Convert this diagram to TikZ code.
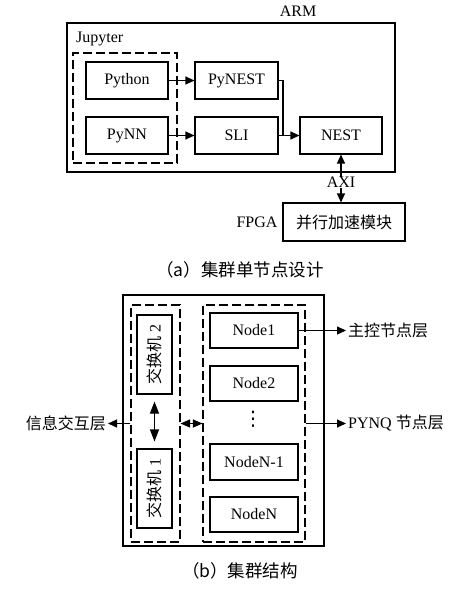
\documentclass[tikz,border=0pt]{standalone}
\usepackage{fontspec}
\setmainfont{Liberation Serif}
\newfontfamily\cjk{Noto Sans CJK SC}
\newfontfamily\djv{DejaVu Sans}
\usetikzlibrary{arrows.meta}
\begin{document}
\begin{tikzpicture}[x=1pt,y=-1pt,
  every node/.style={font=\fontsize{16}{19}\selectfont, inner sep=0pt},
  box/.style={draw, line width=1.1pt, minimum height=37pt, minimum width=82pt},
  nbox/.style={draw, line width=1.1pt, minimum height=35pt, minimum width=88pt},
  sbox/.style={draw, line width=1.1pt, minimum height=79pt, minimum width=35pt},
  frame/.style={draw, line width=1.1pt},
  dbox/.style={draw, line width=1.1pt, dash pattern=on 9pt off 4pt},
  arr/.style={line width=1.1pt, -{Triangle[length=9pt,width=8pt]}},
  darr/.style={line width=1.1pt, {Triangle[length=9pt,width=8pt]}-{Triangle[length=9pt,width=8pt]}},
  bigdarr/.style={line width=1.1pt, {Triangle[length=12pt,width=9pt]}-{Triangle[length=12pt,width=9pt]}},
  lbl/.style={inner sep=2pt},
  captxt/.style={font=\cjk\fontsize{17.5}{20}\selectfont}
]
\useasboundingbox (0,0) rectangle (450,589);
% (a)
\node (armlbl) at (298,11) {ARM};
\node[frame, minimum width=328pt, minimum height=149pt] (arm) at (231,97.5) {};
\node[anchor=west] (jup) at (76,39) {Jupyter};
\node[dbox, minimum width=104pt, minimum height=110pt] (jbox) at (125,108) {};
\node[box] (python) at (127,80.5) {Python};
\node[box] (pynn) at (127,135.5) {PyNN};
\node[box, minimum width=83pt] (pynest) at (236.5,80.5) {PyNEST};
\node[box, minimum width=83pt] (sli) at (236.5,135.5) {SLI};
\node[box] (nest) at (341,135.5) {NEST};
\node[box, minimum width=122pt, minimum height=38pt] (fpga) at (344,222) {\cjk 并行加速模块};
\node (fpgalbl) at (257,222) {FPGA};
\coordinate (bend) at (283,0);
\draw[arr] (python) -- (pynest);
\draw[arr] (pynn) -- (sli);
\draw[arr] (sli) -- (nest);
\draw[line width=1.1pt] (pynest.east) -| (bend |- nest.west);
\draw[darr] (nest.south) -- (nest.south |- fpga.north) node[pos=0.58, fill=white, inner sep=0.5pt] (axi) {AXI};
\node[captxt] (capa) at (240,270) {（a）集群单节点设计};
% (b)
\node[frame, minimum width=201pt, minimum height=251pt] (outer) at (223.5,420.5) {};
\node[dbox, minimum width=49pt, minimum height=237pt] (ldash) at (155.5,423.5) {};
\node[dbox, minimum width=102pt, minimum height=237pt] (rdash) at (254,423.5) {};
\node[sbox] (sw2) at (154.5,354.5) {\rotatebox{90}{{\cjk 交换机} 2}};
\node[sbox] (sw1) at (154.5,488.5) {\rotatebox{90}{{\cjk 交换机} 1}};
\draw[bigdarr] ([yshift=-7pt]sw2.south) -- ([yshift=7pt]sw1.north);
\node[nbox] (n1) at (254,330.5) {Node1};
\node[nbox] (n2) at (254,383.5) {Node2};
\node[font=\djv\fontsize{20}{22}\selectfont] (vd) at (253,419) {⋮};
\node[nbox, minimum height=36pt] (nm) at (254,462) {NodeN-1};
\node[nbox] (nn) at (254,514.5) {NodeN};
\draw[line width=1.1pt, {Triangle[length=9.5pt,width=8pt]}-{Triangle[length=9.5pt,width=8pt]}] (ldash.east) -- (rdash.west);
\node[lbl, anchor=east] (info) at (108,423.5) {\cjk 信息交互层};
\draw[arr] (ldash.west) -- (info.east);
\node[lbl, anchor=west] (master) at (346,330.5) {\cjk 主控节点层};
\draw[arr] (n1.east) -- (master.west);
\node[lbl, anchor=west] (pynq) at (346,423.5) {PYNQ {\cjk 节点层}};
\draw[arr] (rdash.east) -- (pynq.west);
\node[captxt] (capb) at (240,571) {（b）集群结构};
\end{tikzpicture}
\end{document}
